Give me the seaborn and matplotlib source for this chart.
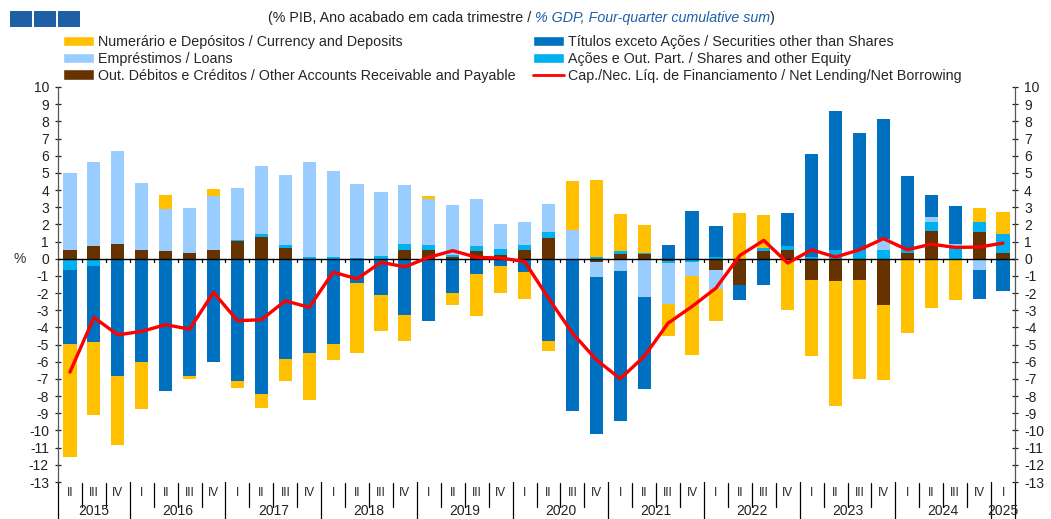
import numpy as np
import matplotlib
matplotlib.use("Agg")
import matplotlib.pyplot as plt
import seaborn as sns
from matplotlib.patches import Patch, Rectangle
from matplotlib.lines import Line2D

# quarters shown on the x axis (2015 II .. 2025 I)
years = ["2015", "2016", "2017", "2018", "2019", "2020", "2021", "2022", "2023", "2024", "2025"]
quarters = ["II", "III", "IV"] + ["I", "II", "III", "IV"] * 9 + ["I"]

# % GDP, four-quarter cumulative sum
currency = [-6.6, -4.24, -4.03, -2.72, 0.84, -0.23, 0.41, -0.42, -0.82, -1.25,
            -2.73, -0.95, -4.08, -2.08, -1.52, 0.15, -0.68, -2.45, -1.55, -1.55,
            -0.62, 2.85, 4.48, 2.15, 1.65, -1.9, -4.6, -1.9, 2.66, 1.9,
            -2.9, -4.43, -7.28, -5.73, -4.35, -4.33, -2.87, -2.43, 0.82, 1.28]
securities = [-4.31, -4.44, -6.8, -6.04, -7.69, -6.8, -6.02, -7.11, -7.88, -5.84,
              -5.5, -4.97, -1.42, -2.06, -3.26, -3.63, -2.0, -0.89, -0.45, -0.8,
              -4.78, -8.85, -9.16, -8.7, -5.34, 0.82, 2.8, 1.8, -0.88, -1.51,
              1.92, 6.0, 8.1, 6.82, 6.99, 4.18, 1.26, 2.26, -1.71, -1.9]
loans = [4.5, 4.89, 5.44, 3.91, 2.44, 2.6, 3.16, 3.03, 3.96, 4.09,
         5.53, 5.03, 4.3, 3.73, 3.42, 2.7, 2.93, 2.72, 1.48, 1.36,
         1.67, 1.69, -0.87, -0.74, -2.23, -2.35, -0.83, -1.1, 0.0, 0.0,
         -0.1, 0.0, 0.0, 0.0, 0.68, 0.0, 0.29, 0.08, -0.64, 0.0]
shares = [-0.64, -0.41, 0.0, 0.0, 0.0, 0.03, 0.0, 0.06, 0.2, 0.2,
          0.08, 0.1, 0.05, 0.15, 0.35, 0.3, 0.1, 0.27, 0.33, 0.32,
          0.33, 0.0, 0.1, 0.15, 0.03, -0.15, -0.17, 0.12, 0.0, 0.2,
          0.24, 0.1, 0.52, 0.52, 0.49, 0.29, 0.51, 0.75, 0.6, 1.13]
other = [0.5, 0.72, 0.83, 0.52, 0.43, 0.31, 0.49, 1.05, 1.26, 0.6,
         0.0, 0.0, 0.0, -0.08, 0.5, 0.5, 0.1, 0.47, 0.21, 0.48,
         1.2, 0.0, -0.2, 0.3, 0.3, -0.12, 0.0, -0.64, -1.55, 0.45,
         0.5, -1.26, -1.32, -1.26, -2.72, 0.33, 1.63, 0.0, 1.53, 0.33]
net_lending = [-6.6, -3.42, -4.43, -4.23, -3.84, -4.1, -1.96, -3.61, -3.55, -2.45,
               -2.83, -0.78, -1.17, -0.21, -0.47, 0.08, 0.47, 0.08, 0.04, -0.16,
               -2.3, -4.33, -5.88, -6.99, -5.69, -3.75, -2.78, -1.71, 0.19, 1.07,
               -0.25, 0.52, 0.1, 0.52, 1.17, 0.52, 0.85, 0.66, 0.68, 0.91]

lab_cur = "Numerário e Depósitos / Currency and Deposits"
lab_sec = "Títulos exceto Ações / Securities other than Shares"
lab_loans = "Empréstimos / Loans"
lab_shares = "Ações e Out. Part. / Shares and other Equity"
lab_other = "Out. Débitos e Créditos / Other Accounts Receivable and Payable"
lab_line = "Cap./Nec. Líq. de Financiamento / Net Lending/Net Borrowing"

c_cur, c_sec, c_loans, c_shares, c_other = "#FFC000", "#0070C0", "#99CCFF", "#00B0F0", "#663300"

sns.set_theme(style="white")
plt.rcParams["font.family"] = ["Liberation Sans", "DejaVu Sans"]
plt.rcParams["axes.unicode_minus"] = False

W, H = 1051, 519
fig = plt.figure(figsize=(W / 100, H / 100), dpi=100)
ax = fig.add_axes([58 / W, (H - 482) / H, 957 / W, 395 / H])

n = len(quarters)
xs = np.arange(n)

# stacked bars, positives and negatives stacked separately
pos = np.zeros(n)
neg = np.zeros(n)
for vals, col in [(other, c_other), (shares, c_shares), (loans, c_loans),
                  (securities, c_sec), (currency, c_cur)]:
    v = np.array(vals)
    b = np.where(v >= 0, pos, neg)
    ax.bar(xs, v, 0.55, bottom=b, color=col, linewidth=0, zorder=2)
    pos += np.clip(v, 0, None)
    neg += np.clip(v, None, 0)

ax.axhline(0, color="black", lw=1.0, zorder=3)
for k in range(1, n):
    ax.plot([k - 0.5, k - 0.5], [0, -0.18], color="black", lw=0.9, zorder=3)

sns.lineplot(x=xs, y=net_lending, color="#FF0000", lw=2.4, ax=ax, zorder=4, legend=False)

ax.set_xlim(-0.5, n - 0.5)
ax.set_ylim(-13, 10)
ax.set_yticks(range(-13, 11))
ax.set_xticks([])
ax.tick_params(axis="y", direction="inout", length=5, width=0.9, pad=4,
               labelsize=10, colors="#222222", left=True, right=True, labelright=True)
for s in ["top", "bottom"]:
    ax.spines[s].set_visible(False)
for s in ["left", "right"]:
    ax.spines[s].set_color("#555555")
    ax.spines[s].set_linewidth(0.9)
ax.set_ylabel("")
ax.set_xlabel("")
ax.text(-0.04, 0, "%", transform=ax.get_yaxis_transform(), ha="center", va="center",
        fontsize=10, color="#333333")

# category axis below the plot: quarter labels, year labels and separators
tr = ax.get_xaxis_transform()
year_bounds = [-0.5] + [k - 0.5 for k in range(n) if quarters[k] == "I"] + [n - 0.5]
for k in range(n + 1):
    b = k - 0.5
    if b in year_bounds:
        ax.plot([b, b], [0, -0.12], transform=tr, color="black", lw=0.9, clip_on=False)
    else:
        ax.plot([b, b], [-0.002, -0.063], transform=tr, color="black", lw=0.9, clip_on=False)
for k, q in enumerate(quarters):
    ax.text(k, -0.028, q, transform=tr, ha="center", va="center", fontsize=8.5, color="#222222")
for i, y in enumerate(years):
    ctr = (year_bounds[i] + year_bounds[i + 1]) / 2
    ax.text(ctr, -0.074, y, transform=tr, ha="center", va="center", fontsize=10, color="#222222")

# legends (two fixed columns)
hl = dict(handlelength=2.2, handleheight=0.75, handletextpad=0.25, labelspacing=0.2,
          borderpad=0, borderaxespad=0, frameon=False, fontsize=10.3, loc="upper left")
leg1 = fig.legend([Patch(facecolor=c_cur), Patch(facecolor=c_loans), Patch(facecolor=c_other)],
                  [lab_cur, lab_loans, lab_other], bbox_to_anchor=(63 / W, 1 - 35 / H), **hl)
leg2 = fig.legend([Patch(facecolor=c_sec), Patch(facecolor=c_shares),
                   Line2D([], [], color="#FF0000", lw=2)],
                  [lab_sec, lab_shares, lab_line], bbox_to_anchor=(533 / W, 1 - 35 / H), **hl)

# header: three blue squares and title
for x0 in [10, 34, 58]:
    fig.add_artist(Rectangle((x0 / W, 1 - 27 / H), 22 / W, 16 / H, transform=fig.transFigure,
                             facecolor="#1F5FA8", edgecolor="none"))
r = fig.canvas.get_renderer()
ty = 1 - 18 / H
t1 = fig.text(268 / W, ty, "(% PIB, Ano acabado em cada trimestre / ", fontsize=10.3,
              va="center", color="#222222")
x1 = t1.get_window_extent(r).x1
t2 = fig.text(x1 / W, ty, "% GDP, Four-quarter cumulative sum", fontsize=10.3, style="italic",
              va="center", color="#1F5FA8")
x2 = t2.get_window_extent(r).x1
fig.text(x2 / W, ty, ")", fontsize=10.3, va="center", color="#222222")

fig.savefig("out.png", dpi=100)
